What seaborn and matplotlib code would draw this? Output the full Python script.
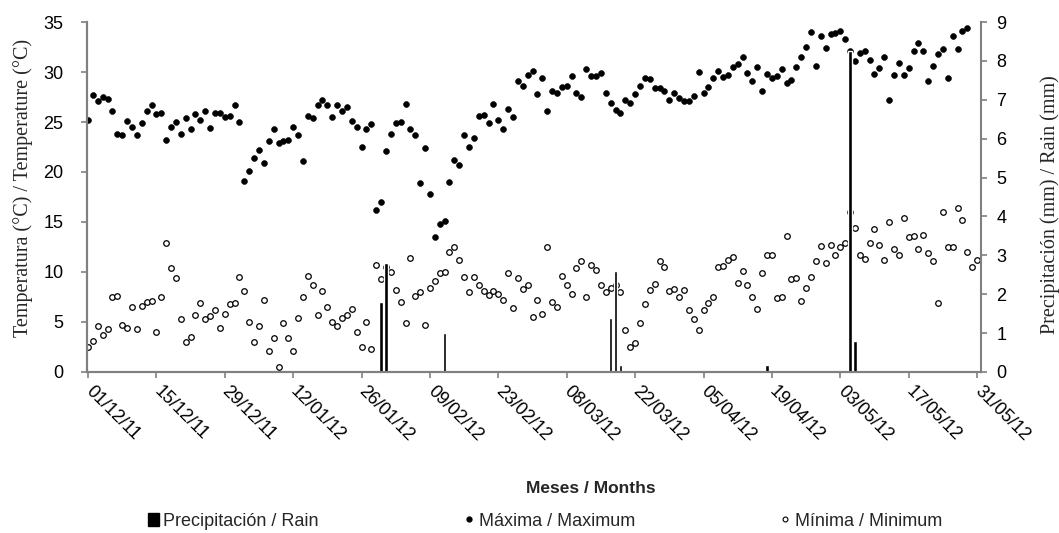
import matplotlib
matplotlib.use("Agg")
import matplotlib.pyplot as plt
from matplotlib.patches import Patch
from matplotlib.lines import Line2D
import numpy as np
import seaborn as sns

# daily values, day 0 = 01/12/11 ... day 182 = 31/05/12
t_max = [25.2, 27.7, 27.1, 27.5, 27.3, 26.1, 23.8, 23.7, 25.1, 24.5,
         23.7, 24.9, 26.1, 26.7, 25.8, 25.9, 23.2, 24.5, 25.0, 23.8,
         25.4, 24.3, 25.8, 25.2, 26.1, 24.4, 25.9, 25.9, 25.5, 25.6,
         26.7, 25.0, 19.1, 20.1, 21.4, 22.2, 20.9, 23.1, 24.3, 22.9,
         23.1, 23.2, 24.5, 23.7, 21.1, 25.6, 25.4, 26.7, 27.2, 26.7,
         25.5, 26.7, 26.1, 26.5, 25.1, 24.5, 22.5, 24.3, 24.8, 16.2,
         17.0, 22.1, 23.8, 24.9, 25.0, 26.8, 24.3, 23.7, 18.9, 22.4,
         17.8, 13.5, 14.8, 15.1, 19.0, 21.2, 20.7, 23.7, 22.5, 23.4,
         25.6, 25.7, 24.9, 26.8, 25.2, 24.3, 26.3, 25.5, 29.1, 28.6,
         29.7, 30.1, 27.8, 29.4, 26.1, 28.1, 27.9, 28.5, 28.6, 29.6,
         27.9, 27.5, 30.3, 29.6, 29.6, 29.9, 27.9, 26.9, 26.2, 25.9,
         27.2, 26.9, 27.8, 28.6, 29.4, 29.3, 28.4, 28.4, 28.1, 27.2,
         27.9, 27.4, 27.1, 27.1, 27.6, 30.0, 27.9, 28.5, 29.4, 30.1,
         29.5, 29.7, 30.5, 30.8, 31.5, 29.9, 29.1, 30.5, 28.1, 29.8,
         29.4, 29.6, 30.3, 28.9, 29.2, 30.5, 31.5, 32.5, 34.0, 30.6,
         33.6, 32.4, 33.8, 33.9, 34.1, 33.3, 32.1, 31.1, 31.9, 32.1,
         31.2, 29.8, 30.4, 31.5, 27.2, 29.7, 30.9, 29.7, 30.4, 32.1,
         32.9, 32.1, 29.1, 30.6, 31.8, 32.3, 29.4, 33.6, 32.3, 34.1,
         34.4]

t_min = [2.5, 3.1, 4.6, 3.7, 4.3, 7.5, 7.6, 4.7, 4.4, 6.5,
         4.3, 6.6, 7.0, 7.1, 4.0, 7.5, 12.9, 10.4, 9.4, 5.3,
         3.0, 3.5, 5.7, 6.9, 5.3, 5.6, 6.2, 4.4, 5.8, 6.8,
         6.9, 9.5, 8.1, 5.0, 3.0, 4.6, 7.2, 2.1, 3.4, 0.5,
         4.9, 3.4, 2.1, 5.4, 7.5, 9.6, 8.7, 5.7, 8.1, 6.5,
         5.0, 4.6, 5.4, 5.7, 6.3, 4.0, 2.5, 5.0, 2.3, 10.7,
         9.3, 10.5, 10.0, 8.2, 7.0, 4.9, 11.4, 7.6, 8.0, 4.7,
         8.4, 9.1, 9.9, 10.0, 12.0, 12.5, 11.2, 9.5, 8.0, 9.5,
         8.7, 8.1, 7.7, 8.1, 7.8, 7.2, 9.9, 6.4, 9.4, 8.3,
         8.7, 5.5, 7.2, 5.8, 12.5, 7.0, 6.5, 9.6, 8.7, 7.8,
         10.4, 11.1, 7.5, 10.7, 10.2, 8.7, 8.0, 8.4, 8.7, 8.0,
         4.2, 2.5, 2.9, 4.9, 6.8, 8.2, 8.8, 11.1, 10.5, 8.1,
         8.3, 7.5, 8.2, 6.2, 5.3, 4.2, 6.2, 6.9, 7.5, 10.5,
         10.6, 11.2, 11.5, 8.9, 10.1, 8.7, 7.5, 6.3, 9.9, 11.7,
         11.7, 7.4, 7.5, 13.6, 9.3, 9.4, 7.1, 8.4, 9.5, 11.1,
         12.6, 10.9, 12.7, 11.7, 12.5, 12.9, 16.0, 14.4, 11.7, 11.3,
         12.9, 14.3, 12.7, 11.2, 15.0, 12.3, 11.7, 15.4, 13.5, 13.6,
         12.3, 13.7, 11.9, 11.1, 6.9, 16.0, 12.5, 12.5, 16.4, 15.2,
         12.0, 10.5, 11.2]

rain_days = [60, 61, 73, 107, 108, 109, 139, 156, 157]
rain_mm = [1.8, 2.8, 1.0, 1.4, 2.6, 0.18, 0.18, 8.25, 0.8]

tick_days = list(range(0, 183, 14))
tick_labels = ["01/12/11", "15/12/11", "29/12/11", "12/01/12", "26/01/12",
               "09/02/12", "23/02/12", "08/03/12", "22/03/12", "05/04/12",
               "19/04/12", "03/05/12", "17/05/12", "31/05/12"]

sns.set_style("ticks")
plt.rcParams['font.family'] = ['Liberation Sans', 'DejaVu Sans']

axis_grey = '#808080'

fig = plt.figure(figsize=(10.59, 5.33), dpi=100)
ax = fig.add_axes([0.0822, 0.3021, 0.8441, 0.6566])
ax2 = ax.twinx()

sns.scatterplot(x=np.arange(len(t_max)), y=t_max, ax=ax, color='black', s=18,
                edgecolor='black', linewidth=0.4, zorder=3)
sns.scatterplot(x=np.arange(len(t_min)), y=t_min, ax=ax, color='white', s=16,
                edgecolor='black', linewidth=0.9, zorder=3)
ax2.bar(rain_days, rain_mm, width=0.7, color='black', zorder=2)

ax.set_xlim(-0.2, 182.8)
ax.set_ylim(0, 35)
ax2.set_ylim(0, 9)
ax.set_yticks(range(0, 36, 5))
ax2.set_yticks(range(0, 10))
ax.set_xticks(tick_days)
ax.set_xticklabels(tick_labels, rotation=-45, ha='left', va='center',
                   rotation_mode='anchor', fontsize=13)

for a in (ax, ax2):
    for s in a.spines.values():
        s.set_color(axis_grey)
        s.set_linewidth(1.5)
    a.spines['top'].set_visible(False)
    a.tick_params(colors=axis_grey, labelcolor='black', width=1.2, length=4)
ax.spines['right'].set_visible(False)
ax.tick_params(axis='y', labelsize=13, pad=13)
ax.tick_params(axis='x', pad=8)
ax2.tick_params(axis='y', labelsize=13, pad=7)

ax.set_ylabel("Temperatura (°C) / Temperature (°C)", fontsize=14.5,
              family=['Liberation Serif', 'DejaVu Serif'])
ax.yaxis.set_label_coords(-0.0605, 0.526)
ax2.set_ylabel("Precipitación (mm) / Rain (mm)", fontsize=14.5, rotation=90,
               family=['Liberation Serif', 'DejaVu Serif'])
ax2.yaxis.set_label_coords(1.066, 0.477)
ax.set_xlabel("Meses / Months", fontsize=12.5, fontweight='bold')
ax.xaxis.set_label_coords(0.563, -0.311)

handles = [Patch(facecolor='black', edgecolor='black'),
           Line2D([], [], ls='none', marker='o', ms=3.5, color='black'),
           Line2D([], [], ls='none', marker='o', ms=3.5, mfc='white', mec='black', mew=0.8)]
labels = ["Precipitación / Rain", "Máxima / Maximum", "Mínima / Minimum"]
fig.legend(handles, labels, loc='center', bbox_to_anchor=(545 / 1059, 1 - 521 / 533),
           ncol=3, frameon=False, fontsize=13, columnspacing=8.0,
           handlelength=0.6, handleheight=0.7, handletextpad=0.25)

fig.savefig("out.png", dpi=100)
